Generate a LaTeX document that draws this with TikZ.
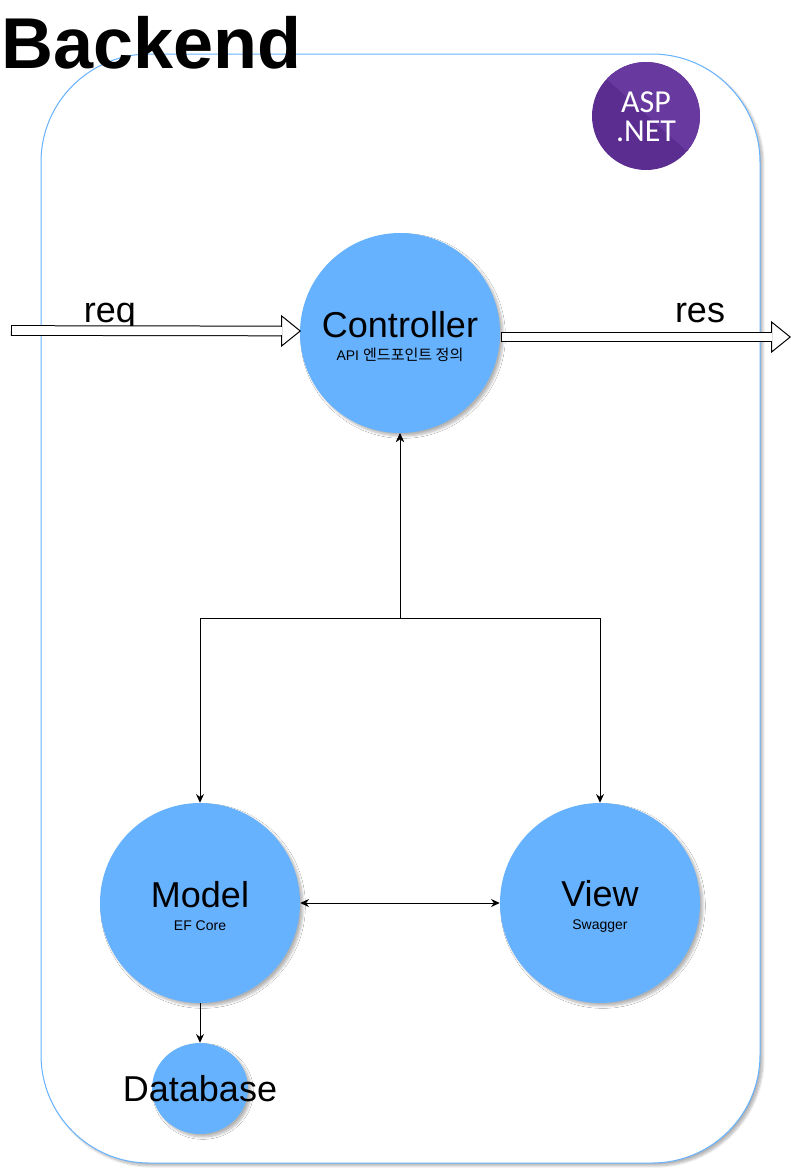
\documentclass[tikz,border=0pt]{standalone}
\usepackage{fontspec}
\setmainfont{Liberation Sans}
\newfontfamily\cjkfont{Noto Sans CJK KR}
\newfontfamily\logofont{Carlito}
\usepackage{tikz}
\usetikzlibrary{arrows.meta,shapes.geometric,shadows.blur}
\usepackage{xcolor}
\definecolor{mvcblue}{HTML}{66B2FF}
\definecolor{logodark}{HTML}{5C2D91}
\definecolor{logolight}{HTML}{683A9F}

\begin{document}
\begin{tikzpicture}[
  x=0.75pt, y=-0.75pt,
  % Node Styles
  softshadow/.style={blur shadow={shadow xshift=2.2pt, shadow yshift=-2.2pt, shadow blur radius=1.8pt, shadow blur steps=8, shadow opacity=30}},
  framebox/.style={rectangle, rounded corners=81pt, draw=mvcblue, line width=0.75pt, fill=white, softshadow, minimum width=539.25pt, minimum height=831.75pt},
  mvcnode/.style={circle, fill=mvcblue, softshadow, text=black, minimum size=150pt, inner sep=0pt, align=center},
  dbnode/.style={ellipse, fill=mvcblue, softshadow, text=black, minimum width=72pt, minimum height=68.25pt, inner sep=0pt, font=\fontsize{27pt}{32pt}\selectfont},
  logonode/.style={circle, fill=logodark, minimum size=81pt, inner sep=0pt},
  plainlabel/.style={text=black, inner sep=0pt, font=\fontsize{27pt}{32pt}\selectfont},
  % Arrow Styles
  linkarrow/.style={{Stealth[length=6.5pt,width=6pt]}-{Stealth[length=6.5pt,width=6pt]}, line width=0.75pt},
  downarrow/.style={-{Stealth[length=6.5pt,width=6pt]}, line width=0.75pt},
  blockarrow/.style={double=white, double distance=6.5pt, line width=0.75pt, -{Triangle[open, fill=white, length=15pt, width=24pt, line width=0.75pt]}},
  blockgap/.style={white, line width=6.5pt},
  tailbar/.style={line width=0.75pt}
]
\useasboundingbox (0,0) rectangle (791,1172);

\node[framebox] (F_0) at (400.5,608.5) {};

\node[logonode] (L_0) at (646,116) {};
\begin{scope}
\clip (646,116) circle (54);
\fill[logolight] (600,73) -- (720,181) -- (720,50) -- (600,50) -- cycle;
\end{scope}
\node[text=white, inner sep=0pt, align=center, font=\logofont\fontsize{24pt}{21.75pt}\selectfont] (L_1) at (646,117) {ASP\\.NET};

\node[mvcnode] (N_0) at (400,333) {\fontsize{27pt}{29pt}\selectfont\rule{0pt}{24.5pt}Controller\\[5pt]\fontsize{10.5pt}{12pt}\selectfont API {\cjkfont\fontsize{11.3pt}{12pt}\selectfont 엔드포인트 정의}};
\node[mvcnode] (N_1) at (200,903) {\fontsize{27pt}{29pt}\selectfont\rule{0pt}{24.5pt}Model\\[5pt]\fontsize{10.5pt}{12pt}\selectfont EF Core};
\node[mvcnode] (N_2) at (600,903) {\fontsize{27pt}{29pt}\selectfont\rule{0pt}{24.5pt}View\\[5pt]\fontsize{10.5pt}{12pt}\selectfont Swagger};
\node[dbnode] (N_3) at (200,1088.5) {\makebox[0pt]{Database}};

\node[anchor=base west, inner sep=0pt, text=black, font=\bfseries\fontsize{54pt}{60pt}\selectfont] (T_0) at (1,68) {Backend};
\node[plainlabel, anchor=base] (T_1) at (110,322) {req};
\node[plainlabel, anchor=base] (T_2) at (700,322) {res};

\coordinate (C_0) at (11,330.5);
\coordinate (C_1) at (791,337);
\coordinate (C_2) at (400,618);
\coordinate (C_3) at (501,337);

\draw[blockarrow] (C_0) -- ([xshift=1pt,yshift=1.5pt]N_0.west);
\draw[blockarrow] (C_3) -- (C_1);
\draw[tailbar] ([yshift=-4pt]C_0) -- ([yshift=4pt]C_0);
\draw[tailbar] ([yshift=-4pt]C_3) -- ([yshift=4pt]C_3);
\draw[blockgap] ([xshift=-15pt,yshift=1.5pt]N_0.west) -- ([xshift=-13.2pt,yshift=1.5pt]N_0.west);
\draw[blockgap] ([xshift=-16pt]C_1) -- ([xshift=-14.2pt]C_1);
\draw[linkarrow] (N_0.south) -- (C_2) -| (N_1.north);
\draw[linkarrow] (N_0.south) -- (C_2) -| (N_2.north);
\draw[linkarrow] (N_1.east) -- (N_2.west);
\draw[downarrow] (N_1.south) -- (N_3.north);

\end{tikzpicture}
\end{document}
